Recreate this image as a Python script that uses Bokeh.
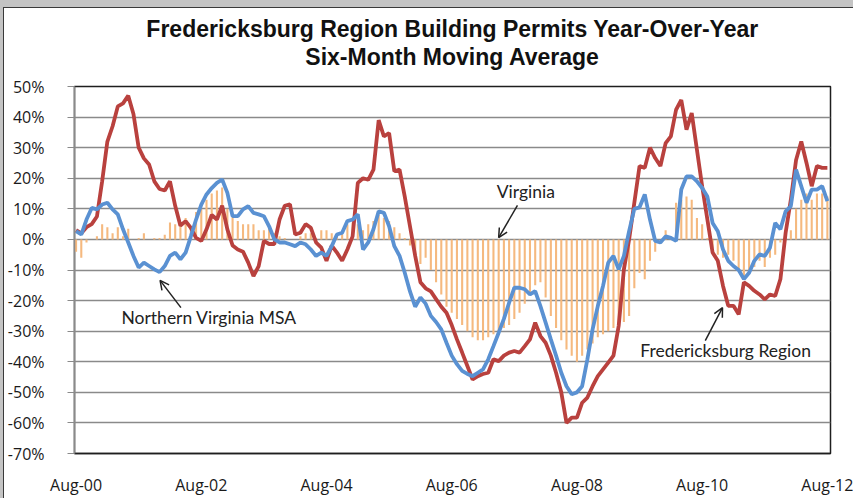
from bokeh.plotting import figure
from bokeh.models import ColumnDataSource, FixedTicker, Label, Arrow, OpenHead, Title
from bokeh.embed import file_html
from bokeh.resources import INLINE

# ---- data (monthly, Aug-00 .. Aug-12), percent ----
fredericksburg = [
    3, 2, 4, 5, 7.5, 19, 32, 37, 43.5, 44.5, 47, 41, 30, 26.5, 24.5, 19, 16.5, 16, 19, 11,
    4.5, 6, 3.8, 0.5, -0.5, 3.3, 8, 6.5, 11, 3.3, -2, -3.3, -4, -7.6, -12, -8.7, -0.5, -1.5, -1.5, 6.5,
    11, 11.5, 1.6, 2.2, 5, 3.8, -1, -2.7, -7, -2, -4.3, -7, -3.3, 1, 18.5, 20, 19.5, 22.8, 39, 33.7,
    34.8, 22.3, 22.8, 14, 4.3, -5.4, -14, -16, -17, -19.5, -22, -24, -28, -32.7, -37, -41.4, -45.8, -44.7, -44, -43.6,
    -39.2, -39.8, -38, -37, -36.5, -37, -34.9, -32.7, -27.2, -31.6, -33.8, -38, -43.6, -50, -60, -58.3, -58.3, -53.4, -51.7, -48,
    -44.7, -42.5, -40.3, -38, -28.3, -9.8, 0, 12, 24, 23.4, 30, 26.6, 24, 31.5, 33.7, 42.4, 45.6, 35.9, 41.3, 29.3,
    17.4, 6.5, -4.3, -7, -15.2, -21.7, -21.7, -24.5, -14, -15.2, -16.8, -18, -19.6, -18, -18.5, -13, 2.2, 13, 26, 32,
    25, 17.4, 24, 23.4, 23.4,
]
northern_va = [
    2.7, 1.6, 6.5, 10.3, 9.8, 11.4, 12, 9.8, 8.2, 3.3, -1, -5.4, -9.2, -7.6, -8.7, -9.8, -10.7, -8.7, -5.4, -4.3,
    -6.5, -4.3, 1, 6.5, 11.4, 14.7, 16.8, 18.5, 19.6, 15.2, 7.6, 7.6, 9.8, 10.9, 8.7, 8.2, 7.6, 4.3, 0, -1,
    -1, -1.6, -2.2, -1, -1.6, -3.3, -5.4, -4.3, -5.4, -2.2, 1.6, 2.2, 6, 6.5, 8.2, -3.3, -1, 3.3, 9.2, 8.7,
    4.3, -2.2, -5.4, -10.9, -17, -22, -19, -21, -25, -27, -29.4, -33.8, -38, -40.8, -43, -44, -44.7, -43.6, -42.5, -39.2,
    -34.9, -30.5, -26, -20.7, -15.8, -15.8, -16.3, -18, -16.9, -21.8, -27.2, -32.7, -38, -43.6, -48, -50.6, -50, -48, -39.2, -29.4,
    -21.8, -15.2, -7.6, -5.4, -9.8, -5.4, 2.7, 10, 10.5, 14.7, 6.5, -0.5, -1, 1, 0.5, -0.5, 16.3, 20.6, 20.6, 19,
    16.8, 14, 5.4, 2.7, -3.3, -7, -8.7, -10, -13, -10.9, -7, -4.9, -5.4, -2.7, 5.4, 3.3, 9.2, 10.9, 22.8, 17.4,
    12, 16.3, 16.3, 17.4, 12.5,
]
virginia = [
    -4, -6, -1, 0, 1, 5, 4, 2, 4, 1, 3.5, 0, 0.5, 2, 0, 0.5, 0.5, 1.5, 5.5, 5,
    5, 7, 4, 9, 10, 13, 15, 16, 17, 10, 8, 6, 5, 5, 5, 3, 3, 4, 2, 1,
    0.5, 0, 0, 1, 2, 2, 0.5, 3, 3, 2, 1, 2.5, 5, 5.5, 5, 3, 5, 6, 8, 7,
    6, 4, 2, 0.5, -2, -5, -8, -6, -10, -14, -18, -22, -24, -26, -28, -30, -32, -33, -33, -32,
    -31, -30, -29, -28, -26, -24, -21, -18, -15, -14, -19, -25, -29, -33, -36, -38, -40, -38, -36, -34,
    -32, -31, -30, -29, -28, -27, -25, -16, -11, -13, -7, -4, 0, 3, 1, 12, 13, 14, 13, 7,
    5, 0.5, -3, -5, -6, -5, -7, -10, -12, -11, -9, -7, -9, -6, -5, -1, 1, 3, 10, 13,
    15, 13, 15, 15, 14,
]
tick_labels = ["Aug-00", "Aug-02", "Aug-04", "Aug-06", "Aug-08", "Aug-10", "Aug-12"]
y_ticks = [-70, -60, -50, -40, -30, -20, -10, 0, 10, 20, 30, 40, 50]
title_lines = ["Fredericksburg Region Building Permits Year-Over-Year", "Six-Month Moving Average"]

months = list(range(len(virginia)))
src = ColumnDataSource(dict(m=months, fr=fredericksburg, nv=northern_va, va=virginia))

p = figure(width=853, height=498, output_backend="svg", toolbar_location=None, title=None,
           x_range=(-0.3, 144.6), y_range=(-70, 50),
           min_border_left=74, min_border_right=23, min_border_top=86, min_border_bottom=45)
p.styles = {"box-shadow": "inset 3px 7px 0 0 #c4c4c4, inset 4px 8px 0 0 #3a3a3a"}
p.background_fill_color = "white"
p.border_fill_color = None
p.outline_line_color = "#1e1e1e"
p.outline_line_width = 1.5

# titles (nearest to frame first)
p.add_layout(Title(text=title_lines[1], align="center", vertical_align="top", text_font="Liberation Sans",
                   text_font_style="bold", text_font_size="23px", text_color="#111111",
                   standoff=30), "above")
p.add_layout(Title(text=title_lines[0], align="center", vertical_align="bottom", text_font="Liberation Sans",
                   text_font_style="bold", text_font_size="23px", text_color="#111111",
                   standoff=-26), "above")

p.xgrid.grid_line_color = None
p.ygrid.grid_line_color = "#8a8a8a"
p.ygrid.grid_line_width = 1.6
p.ygrid.ticker = FixedTicker(ticks=y_ticks)

p.yaxis.ticker = FixedTicker(ticks=y_ticks)
p.yaxis.major_label_overrides = {t: f"{t}%" for t in y_ticks}
p.yaxis.axis_line_color = "#8a8a8a"
p.yaxis.axis_line_width = 1.5
p.yaxis.major_tick_line_color = "#8a8a8a"
p.yaxis.major_tick_out = 7
p.yaxis.major_tick_in = 0
p.yaxis.minor_tick_line_color = None
p.yaxis.major_label_standoff = 23
p.yaxis.major_label_text_font = "Open Sans"
p.yaxis.major_label_text_font_size = "16px"
p.yaxis.major_label_text_color = "#1a1a1a"

x_ticks = [24 * i for i in range(len(tick_labels))]
p.xaxis.ticker = FixedTicker(ticks=x_ticks)
p.xaxis.major_label_overrides = {t: lab for t, lab in zip(x_ticks, tick_labels)}
p.xaxis.axis_line_color = "#1e1e1e"
p.xaxis.axis_line_width = 1.5
p.xaxis.major_tick_out = 0
p.xaxis.major_tick_in = 0
p.xaxis.minor_tick_line_color = None
p.xaxis.major_label_standoff = 20
p.xaxis.major_label_text_font = "Open Sans"
p.xaxis.major_label_text_font_size = "16px"
p.xaxis.major_label_text_color = "#1a1a1a"

p.vbar(x="m", top="va", bottom=0, width=0.4, source=src,
       fill_color="#F5B97F", line_color=None)
p.line(x="m", y="fr", source=src, line_color="#B9413E", line_width=3.8)
p.line(x="m", y="nv", source=src, line_color="#5A91D2", line_width=3.8)

# annotations
ann_font = "Lato"
p.add_layout(Label(x=86.2, y=15.7, text="Virginia", text_align="center", text_baseline="middle",
                   text_font=ann_font, text_font_size="17.5px", text_color="#222222"))
p.add_layout(Label(x=25.5, y=-25.5, text="Northern Virginia MSA", text_align="center", text_baseline="middle",
                   text_font=ann_font, text_font_size="17.5px", text_color="#222222"))
p.add_layout(Label(x=124.5, y=-36.3, text="Fredericksburg Region", text_align="center", text_baseline="middle",
                   text_font=ann_font, text_font_size="17.5px", text_color="#222222"))

for (xs, ys, xe, ye) in [(84.6, 11.1, 81.0, 0.6), (20.1, -22.3, 16.1, -13.4), (120.6, -33.1, 123.9, -22.3)]:
    p.add_layout(Arrow(end=OpenHead(size=9, line_color="#222222", line_width=1.5),
                       x_start=xs, y_start=ys, x_end=xe, y_end=ye,
                       line_color="#222222", line_width=1.5))

open("out.html", "w").write(file_html(p, INLINE))
